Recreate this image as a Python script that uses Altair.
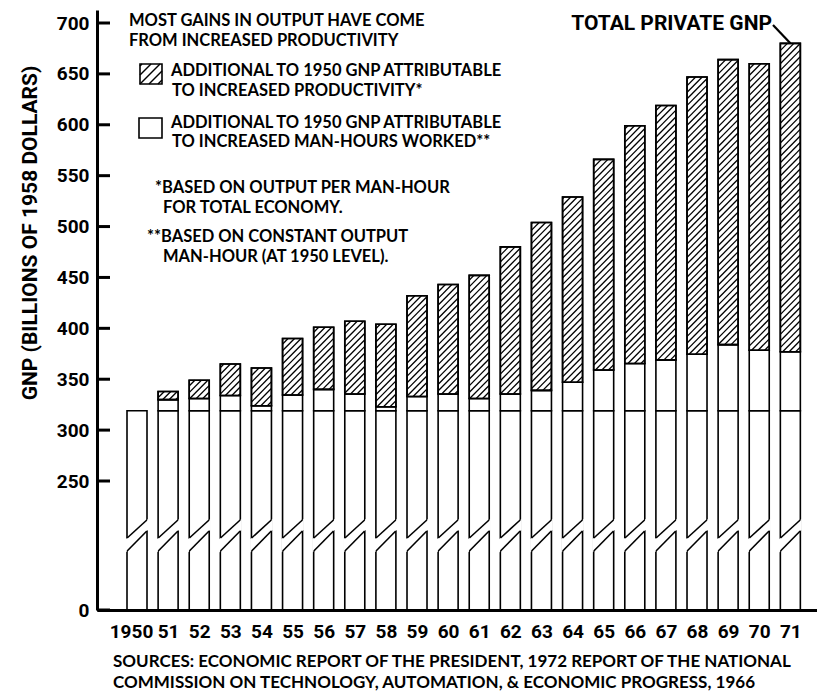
import math
import altair as alt
import pandas as pd

# ---------------- data ----------------
years = list(range(1950, 1972))
x_labels = ["1950", "51", "52", "53", "54", "55", "56", "57", "58", "59", "60",
            "61", "62", "63", "64", "65", "66", "67", "68", "69", "70", "71"]
gnp_1950 = 319
manhour_top = [319, 330, 331, 334, 324, 334.5, 340, 335.5, 323, 333, 335.5,
               331, 335.5, 339, 347, 359, 365.5, 369, 374.5, 384, 378.5, 377]
total_gnp = [319, 338, 349, 365, 361, 390, 401, 407, 404, 432, 443,
             452, 480, 504, 529, 566, 599, 619, 647, 664, 660, 680]
y_ticks = [0, 250, 300, 350, 400, 450, 500, 550, 600, 650, 700]

legend_title = ["MOST GAINS IN OUTPUT HAVE COME", "FROM INCREASED PRODUCTIVITY"]
legend_prod = ["ADDITIONAL TO 1950 GNP ATTRIBUTABLE", "TO INCREASED PRODUCTIVITY*"]
legend_hours = ["ADDITIONAL TO 1950 GNP ATTRIBUTABLE", "TO INCREASED MAN-HOURS WORKED**"]
note_1 = ["*BASED ON OUTPUT PER MAN-HOUR", "FOR TOTAL ECONOMY."]
note_2 = ["**BASED ON CONSTANT OUTPUT", "MAN-HOUR (AT 1950 LEVEL)."]
sources = ["SOURCES: ECONOMIC REPORT OF THE PRESIDENT, 1972 REPORT OF THE NATIONAL",
           "COMMISSION ON TECHNOLOGY, AUTOMATION, & ECONOMIC PROGRESS, 1966"]
y_title = "GNP (BILLIONS OF 1958 DOLLARS)"
total_label = "TOTAL PRIVATE GNP"

# ---------------- geometry / style ----------------
W, H = 720, 600
R250, R700 = 471, 13
PXU = (R250 - R700) / 450.0          # px per unit above the break
PXL = (H - R250) / 250.0             # px per unit below 250 (compressed)
YTOP = 250 + R250 / PXU
X0 = 1948.875
PXY = 31.55                          # px per year
X1 = X0 + W / PXY
BAR = 20
HW = BAR / 2 / PXY
NARROW = "Roboto, Liberation Sans, sans-serif"
LEG = "Lato, Open Sans, sans-serif"
LW = 1.6
label_expr = " : ".join(f"datum.value == {y} ? '{l}'" for y, l in zip(years, x_labels)) + " : ''"

xs = alt.Scale(domain=[X0, X1], nice=False, zero=False)
ys = alt.Scale(domain=[0, 250, YTOP], range=[H, R250, 0], nice=False, zero=False)

xaxis = alt.Axis(values=years, title=None, grid=False, ticks=False, tickSize=0,
                 labelExpr=label_expr,
                 labelFont=NARROW, labelFontSize=19, labelFontWeight="bold",
                 labelColor="black", labelBaseline="alphabetic", labelPadding=27,
                 labelOffset={"condition": {"test": "datum.value == 1950", "value": -6}, "value": 0},
                 labelFlush=False, labelOverlap=False,
                 domainColor="black", domainWidth=3, zindex=1)
yaxis = alt.Axis(values=y_ticks, title=None, grid=False, ticks=False, tickSize=0,
                 labelFont=NARROW, labelFontSize=19, labelFontWeight="bold",
                 labelColor="black", labelPadding=8, labelBaseline="middle",
                 labelOverlap=False, domainColor="black", domainWidth=3, zindex=1)


def X(field):
    return alt.X(field, type="quantitative", scale=xs, axis=xaxis, title=None)


def Y(field):
    return alt.Y(field, type="quantitative", scale=ys, axis=yaxis, title=None)


df = pd.DataFrame({"year": years, "mh": manhour_top, "total": total_gnp})
df["base"] = gnp_1950
df["zero"] = 0
dfa = df[df["year"] > 1950]

bar_kw = dict(size=BAR, fill="white", stroke="black", strokeWidth=LW)
base_bars = alt.Chart(df).mark_bar(**bar_kw).encode(x=X("year"), y=Y("zero"), y2="base")
mh_bars = alt.Chart(dfa).mark_bar(**bar_kw).encode(x=X("year"), y=Y("base"), y2="mh")
prod_bars = alt.Chart(dfa).mark_bar(**bar_kw).encode(x=X("year"), y=Y("mh"), y2="total")


# hatch lines ("///") clipped to a rectangle, computed in pixel space
def hatch(xl, xr, ul, uh, d, s):
    segs = []
    n0 = math.ceil((ul - s * xr) / d)
    n1 = math.floor((uh - s * xl) / d)
    for n in range(n0, n1 + 1):
        c = n * d
        xa = max(xl, (ul - c) / s)
        xb = min(xr, (uh - c) / s)
        if xb - xa > 0.6:
            segs.append((xa, c + s * xa, xb, c + s * xb))
    return segs


rows = []
for yr, lo, hi in zip(dfa["year"], dfa["mh"], dfa["total"]):
    xc = (yr - X0) * PXY
    for xa, ua, xb, ub in hatch(xc - BAR / 2, xc + BAR / 2, (lo - 250) * PXU, (hi - 250) * PXU, 6.6, 1.0):
        rows.append({"hx": X0 + xa / PXY, "hy": 250 + ua / PXU,
                     "hx2": X0 + xb / PXY, "hy2": 250 + ub / PXU})
hatch_df = pd.DataFrame(rows)
hatch_lines = alt.Chart(hatch_df).mark_rule(stroke="black", strokeWidth=1.3).encode(
    x=X("hx"), x2="hx2", y=Y("hy"), y2="hy2")
prod_outline = alt.Chart(dfa).mark_bar(size=BAR, fillOpacity=0, stroke="black",
                                       strokeWidth=LW).encode(x=X("year"), y=Y("mh"), y2="total")

# axis-break cut in each bar (px above the zero line -> values)
UP_L, UP_R, LO_L, LO_R = 72, 90, 59, 79
EXT = 1.5
brk_rows, diag_rows = [], []
for yr in years:
    slope_u = (UP_R - UP_L) / BAR
    slope_l = (LO_R - LO_L) / BAR
    brk_rows.append({"year": yr, "bx": yr - HW - EXT / PXY,
                     "blo": (LO_L - slope_l * EXT) / PXL, "bhi": (UP_L - slope_u * EXT) / PXL})
    brk_rows.append({"year": yr, "bx": yr + HW + EXT / PXY,
                     "blo": (LO_R + slope_l * EXT) / PXL, "bhi": (UP_R + slope_u * EXT) / PXL})
    diag_rows.append({"dx": yr - HW, "dx2": yr + HW, "dy": UP_L / PXL, "dy2": UP_R / PXL})
    diag_rows.append({"dx": yr - HW, "dx2": yr + HW, "dy": LO_L / PXL, "dy2": LO_R / PXL})
brk = alt.Chart(pd.DataFrame(brk_rows)).mark_area(fill="white", opacity=1).encode(
    x=X("bx"), y=Y("blo"), y2="bhi", detail="year:N")
diag = alt.Chart(pd.DataFrame(diag_rows)).mark_rule(stroke="black", strokeWidth=LW).encode(
    x=X("dx"), x2="dx2", y=Y("dy"), y2="dy2")

# inward ticks on the y axis
ticks = alt.Chart(pd.DataFrame({"v": y_ticks})).mark_rule(stroke="black", strokeWidth=3).encode(
    x=alt.value(0), x2=alt.value(13), y=Y("v"))

# leader line to the 1971 bar
last = pd.DataFrame({"year": [years[-1]], "total": [total_gnp[-1]]})
leader = alt.Chart(last).mark_rule(stroke="black", strokeWidth=2.2).encode(
    x=X("year"), y=Y("total"), x2=alt.value(676), y2=alt.value(15))

one = pd.DataFrame({"a": [0]})


def text(t, x, y, font=LEG, size=16.5, align="left", angle=0, weight="bold"):
    kw = dict(align=align, baseline="alphabetic", font=font, fontSize=size,
              fontWeight=weight, color="black")
    if angle:
        kw["angle"] = angle
        kw["baseline"] = "middle"
    return alt.Chart(one).mark_text(**kw).encode(x=alt.value(x), y=alt.value(y), text=alt.value(t))


texts = [
    text(legend_title[0], 32, 16), text(legend_title[1], 32, 35.5),
    text(legend_prod[0], 74, 66), text(legend_prod[1], 75, 85.5),
    text(legend_hours[0], 74, 117.5), text(legend_hours[1], 75, 137),
    text(note_1[0], 58, 183), text(note_1[1], 66, 203),
    text(note_2[0], 50, 232), text(note_2[1], 66, 252),
    text(sources[0], 16, 657, size=17), text(sources[1], 16, 678, size=17),
    text(total_label, 675, 20, font=NARROW, size=21, align="right"),
    text(y_title, -66, 223, font=NARROW, size=21, align="center", angle=270),
]

# legend swatches
sw_prod = alt.Chart(one).mark_rect(fill="white", stroke="black", strokeWidth=LW).encode(
    x=alt.value(43), x2=alt.value(65), y=alt.value(54), y2=alt.value(74))
sw_hours = alt.Chart(one).mark_rect(fill="white", stroke="black", strokeWidth=LW).encode(
    x=alt.value(42), x2=alt.value(65), y=alt.value(108), y2=alt.value(128))
lrows = [{"lx": xa, "ly": -ua, "lx2": xb, "ly2": -ub}
         for xa, ua, xb, ub in hatch(43, 65, -74, -54, 9, 1.0)]
sw_hatch = alt.Chart(pd.DataFrame(lrows)).mark_rule(stroke="black", strokeWidth=1.4).encode(
    x=alt.X("lx:Q", scale=None, axis=None), x2="lx2",
    y=alt.Y("ly:Q", scale=None, axis=None), y2="ly2")

chart = alt.layer(
    base_bars, mh_bars, prod_bars, hatch_lines, prod_outline, brk, diag, ticks, leader,
    sw_prod, sw_hatch, sw_hours, *texts
).properties(
    width=W, height=H,
    padding={"left": 89, "top": 2, "right": 0, "bottom": 86},
    autosize=alt.AutoSizeParams(type="none"),
    background="white",
).configure_view(stroke=None)

chart.save("out.html", embed_options={"renderer": "svg", "actions": False})
